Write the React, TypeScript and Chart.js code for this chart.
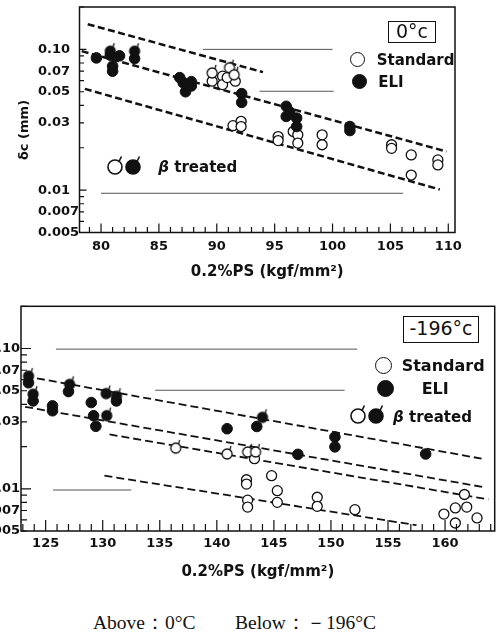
import React, { useEffect, useRef } from 'react';
import { Chart, registerables } from 'chart.js';

Chart.register(...registerables);

// ---------- shared axis ticks ----------
const yTicks = [0.005, 0.007, 0.01, 0.03, 0.05, 0.07, 0.1];
const yTickLabels = ['0.005', '0.007', '0.01', '0.03', '0.05', '0.07', '0.10'];

// ---------- 0 °C panel ----------
const xTicks0 = [80, 85, 90, 95, 100, 105, 110];
const std0X = [89.6, 90.5, 90.5, 91.6, 90.9, 91.4, 92.1, 92.1, 95.3, 95.3, 96.6, 97.0, 97.0, 99.1, 99.1, 105.1, 105.1, 106.8, 106.8, 109.1, 109.1];
const std0Y = [0.0594, 0.0645, 0.0562, 0.0594, 0.063, 0.0287, 0.0308, 0.0283, 0.024, 0.0225, 0.0261, 0.0247, 0.0216, 0.0247, 0.021, 0.021, 0.0198, 0.0178, 0.0128, 0.0164, 0.0151];
const stdB0X = [89.6, 91.1, 91.5];
const stdB0Y = [0.068, 0.074, 0.066];
const eli0X = [79.6, 80.8, 81.0, 81.0, 81.6, 82.9, 86.8, 87.1, 87.3, 87.8, 87.8, 92.15, 92.15, 96.0, 96.0, 96.3, 96.9, 96.9, 101.5, 101.5];
const eli0Y = [0.087, 0.091, 0.076, 0.07, 0.09, 0.086, 0.063, 0.058, 0.05, 0.059, 0.055, 0.0485, 0.042, 0.0394, 0.0334, 0.036, 0.0325, 0.0283, 0.0283, 0.0265];
const eliB0X = [80.8, 82.9];
const eliB0Y = [0.097, 0.097];
const dash0X = [[78.85, 93.99], [78.33, 109.85], [78.6, 109.27]];
const dash0Y = [[0.151, 0.0689], [0.0972, 0.0188], [0.0524, 0.0101]];
const rule0X = [[88.8, 100.0], [93.7, 100.1], [80.0, 106.1]];
const rule0Y = [[0.1, 0.1], [0.0504, 0.0504], [0.0095, 0.0095]];

// ---------- -196 °C panel ----------
const xTicks196 = [125, 130, 135, 140, 145, 150, 155, 160];
const std196X = [143.3, 142.6, 142.6, 142.7, 142.7, 144.8, 145.3, 145.3, 148.8, 148.8, 152.1, 159.9, 160.9, 160.9, 161.7, 161.9, 162.8];
const std196Y = [0.0164, 0.0116, 0.0108, 0.0083, 0.0074, 0.0124, 0.0097, 0.008, 0.0087, 0.0075, 0.0071, 0.0066, 0.0073, 0.0057, 0.0091, 0.0074, 0.0062];
const stdB196X = [136.4, 140.9, 142.7, 143.4];
const stdB196Y = [0.0195, 0.0177, 0.0183, 0.0183];
const eli196X = [123.5, 123.9, 125.6, 125.6, 127.0, 129.0, 129.2, 129.4, 131.2, 140.9, 143.5, 147.1, 150.35, 150.35, 158.3];
const eli196Y = [0.057, 0.0423, 0.039, 0.036, 0.0493, 0.0412, 0.0332, 0.0279, 0.0423, 0.0268, 0.0278, 0.0176, 0.0234, 0.0199, 0.0177];
const eliB196X = [123.5, 123.9, 127.1, 130.3, 130.35, 131.2, 144.0];
const eliB196Y = [0.0635, 0.0472, 0.0555, 0.0477, 0.0332, 0.0456, 0.0323];
const dash196X = [[123.2, 163.2], [123.2, 163.3], [130.6, 163.8], [130.15, 157.5]];
const dash196Y = [[0.0635, 0.0164], [0.0384, 0.0103], [0.0244, 0.0084], [0.0124, 0.0055]];
const rule196X = [[125.9, 152.3], [134.6, 151.2], [125.65, 132.5]];
const rule196Y = [[0.099, 0.099], [0.0504, 0.0504], [0.0098, 0.0098]];

const INK = '#111';
const TICK_FONT = { family: 'DejaVu Sans', size: 13, weight: 'bold' as const };

const zip = (xs: number[], ys: number[]) => xs.map((x, i) => ({ x, y: ys[i] }));

function makeBeta(filled: boolean): HTMLCanvasElement {
  const c = document.createElement('canvas');
  c.width = 20;
  c.height = 20;
  const ctx = c.getContext('2d')!;
  ctx.lineWidth = 1.3;
  ctx.strokeStyle = INK;
  ctx.beginPath();
  ctx.arc(10, 10, 5, 0, Math.PI * 2);
  ctx.fillStyle = filled ? INK : '#fff';
  ctx.fill();
  ctx.stroke();
  const a = (-55 * Math.PI) / 180;
  ctx.beginPath();
  ctx.moveTo(10 + 5 * Math.cos(a), 10 + 5 * Math.sin(a));
  ctx.lineTo(13.8, 1.8);
  ctx.stroke();
  return c;
}

const framePlugin = {
  id: 'frame',
  afterDraw(chart: any, _args: any, o: any) {
    const { ctx, chartArea: a, scales } = chart;
    const x = scales.x;
    const y = scales.y;
    ctx.save();
    ctx.strokeStyle = INK;
    ctx.lineWidth = 1.5;
    ctx.strokeRect(a.left, a.top, a.right - a.left, a.bottom - a.top);
    ctx.lineWidth = 1.2;
    ctx.beginPath();
    for (let v = Math.ceil(x.min); v <= x.max; v++) {
      const px = x.getPixelForValue(v);
      const len = v % 5 === 0 ? o.xMajor : o.xMinor;
      ctx.moveTo(px, a.bottom);
      ctx.lineTo(px, a.bottom - len);
    }
    for (let e = -3; e <= -1; e++) {
      for (let k = 1; k <= 9; k++) {
        const v = k * Math.pow(10, e);
        if (v < y.min * 0.999 || v > y.max * 1.001) continue;
        const py = y.getPixelForValue(v);
        const len = k === 1 ? o.yMajor : o.yMinor;
        ctx.moveTo(a.left, py);
        ctx.lineTo(a.left + len, py);
      }
    }
    ctx.stroke();
    ctx.restore();
  },
};

type Panel = {
  xMin: number; xMax: number; xTicks: number[];
  stdX: number[]; stdY: number[]; stdBX: number[]; stdBY: number[];
  eliX: number[]; eliY: number[]; eliBX: number[]; eliBY: number[];
  dashX: number[][]; dashY: number[][]; ruleX: number[][]; ruleY: number[][];
  dashWidth: number; dash: number[];
  padLeft: number; padRight: number; padTop: number;
  yWidth: number; xHeight: number;
  yAlign: 'near' | 'far'; yPad: number; xPad: number; titlePad: number;
  xMajor: number; xMinor: number; yMajor: number; yMinor: number;
};

function makeConfig(p: Panel, betaOpen: HTMLCanvasElement, betaFilled: HTMLCanvasElement): any {
  const lineSets = p.dashX.map((xs, i) => ({
    label: 'fit' + i,
    data: zip(xs, p.dashY[i]),
    showLine: true,
    pointRadius: 0,
    borderColor: INK,
    borderWidth: p.dashWidth,
    borderDash: p.dash,
    fill: false,
  }));
  const ruleSets = p.ruleX.map((xs, i) => ({
    label: 'rule' + i,
    data: zip(xs, p.ruleY[i]),
    showLine: true,
    pointRadius: 0,
    borderColor: '#555',
    borderWidth: 1,
    fill: false,
  }));
  return {
    type: 'scatter',
    data: {
      datasets: [
        { label: 'ELI β', data: zip(p.eliBX, p.eliBY), pointStyle: betaFilled, pointRadius: 5, pointHoverRadius: 5 },
        { label: 'Standard β', data: zip(p.stdBX, p.stdBY), pointStyle: betaOpen, pointRadius: 5, pointHoverRadius: 5 },
        { label: 'ELI', data: zip(p.eliX, p.eliY), pointStyle: 'circle', pointRadius: 5.3, pointHoverRadius: 5.3, backgroundColor: INK, borderColor: INK, borderWidth: 1 },
        { label: 'Standard', data: zip(p.stdX, p.stdY), pointStyle: 'circle', pointRadius: 5, pointHoverRadius: 5, backgroundColor: '#fff', borderColor: INK, borderWidth: 1.3 },
        ...lineSets,
        ...ruleSets,
      ],
    },
    options: {
      responsive: false,
      animation: false,
      events: [],
      layout: { padding: { left: p.padLeft, right: p.padRight, top: p.padTop, bottom: 0 } },
      plugins: {
        legend: { display: false },
        tooltip: { enabled: false },
        frame: { xMajor: p.xMajor, xMinor: p.xMinor, yMajor: p.yMajor, yMinor: p.yMinor },
      },
      scales: {
        x: {
          type: 'linear',
          position: 'bottom',
          min: p.xMin,
          max: p.xMax,
          grid: { display: false, drawTicks: false },
          border: { display: false },
          afterBuildTicks: (s: any) => { s.ticks = p.xTicks.map((v) => ({ value: v })); },
          afterFit: (s: any) => { s.height = p.xHeight; s.paddingLeft = 0; s.paddingRight = 0; },
          ticks: { autoSkip: false, maxRotation: 0, padding: p.xPad, color: INK, font: TICK_FONT, callback: (v: any) => String(v) },
          title: {
            display: true,
            text: '0.2%PS (kgf/mm²)',
            color: INK,
            font: { family: 'DejaVu Sans', size: 15, weight: 'bold' },
            padding: { top: 0, bottom: p.titlePad },
          },
        },
        y: {
          type: 'logarithmic',
          position: 'left',
          min: 0.005,
          max: 0.2,
          grid: { display: false, drawTicks: false },
          border: { display: false },
          afterBuildTicks: (s: any) => { s.ticks = yTicks.map((v) => ({ value: v })); },
          afterFit: (s: any) => { s.width = p.yWidth; s.paddingTop = 0; s.paddingBottom = 0; },
          ticks: { autoSkip: false, padding: p.yPad, crossAlign: p.yAlign, color: INK, font: TICK_FONT, callback: (_v: any, i: number) => yTickLabels[i] },
        },
      },
    },
    plugins: [framePlugin],
  };
}

const panel0: Panel = {
  xMin: 78.14, xMax: 110.58, xTicks: xTicks0,
  stdX: std0X, stdY: std0Y, stdBX: stdB0X, stdBY: stdB0Y,
  eliX: eli0X, eliY: eli0Y, eliBX: eliB0X, eliBY: eliB0Y,
  dashX: dash0X, dashY: dash0Y, ruleX: rule0X, ruleY: rule0Y,
  dashWidth: 2.5, dash: [7, 3.5],
  padLeft: 38, padRight: 46, padTop: 7, yWidth: 41.5, xHeight: 62.5,
  yAlign: 'far', yPad: 6, xPad: 6.4, titlePad: 14.3,
  xMajor: 9, xMinor: 5.5, yMajor: 7, yMinor: 4.5,
};

const panel196: Panel = {
  xMin: 122.84, xMax: 164.35, xTicks: xTicks196,
  stdX: std196X, stdY: std196Y, stdBX: stdB196X, stdBY: stdB196Y,
  eliX: eli196X, eliY: eli196Y, eliBX: eliB196X, eliBY: eliB196Y,
  dashX: dash196X, dashY: dash196Y, ruleX: rule196X, ruleY: rule196Y,
  dashWidth: 1.8, dash: [8, 4],
  padLeft: 26, padRight: 2.5, padTop: 6, yWidth: 35, xHeight: 69,
  yAlign: 'near', yPad: 1, xPad: 4.5, titlePad: 19.3,
  xMajor: 11, xMinor: 7, yMajor: 10, yMinor: 6,
};

const SANS = '"DejaVu Sans", sans-serif';

function Txt(props: { x: number; cy: number; size: number; bold?: boolean; children: React.ReactNode; lh?: number }) {
  const lh = props.lh ?? Math.round(props.size * 1.2);
  return (
    <div
      style={{
        position: 'absolute',
        left: props.x,
        top: props.cy - lh / 2,
        lineHeight: lh + 'px',
        height: lh,
        fontSize: props.size,
        fontFamily: SANS,
        fontWeight: props.bold ? 'bold' : 'normal',
        color: INK,
        whiteSpace: 'nowrap',
      }}
    >
      {props.children}
    </div>
  );
}

function Dot(props: { cx: number; cy: number; d: number; filled?: boolean }) {
  return (
    <div
      style={{
        position: 'absolute',
        left: props.cx - props.d / 2,
        top: props.cy - props.d / 2,
        width: props.d,
        height: props.d,
        borderRadius: '50%',
        boxSizing: 'border-box',
        border: '1.6px solid ' + INK,
        background: props.filled ? INK : '#fff',
      }}
    />
  );
}

function BetaSym(props: { cx: number; cy: number; filled?: boolean }) {
  const a = (-55 * Math.PI) / 180;
  return (
    <svg width={24} height={24} style={{ position: 'absolute', left: props.cx - 12, top: props.cy - 12 }}>
      <circle cx={12} cy={12} r={7} fill={props.filled ? INK : '#fff'} stroke={INK} strokeWidth={1.6} />
      <line x1={12 + 7 * Math.cos(a)} y1={12 + 7 * Math.sin(a)} x2={18.5} y2={1.5} stroke={INK} strokeWidth={1.6} />
    </svg>
  );
}

function Box(props: { left: number; top: number; w: number; h: number; size: number; children: React.ReactNode }) {
  return (
    <div
      style={{
        position: 'absolute',
        left: props.left,
        top: props.top,
        width: props.w,
        height: props.h,
        boxSizing: 'border-box',
        border: '1.6px solid ' + INK,
        fontFamily: SANS,
        fontSize: props.size,
        lineHeight: props.h - 3 + 'px',
        textAlign: 'center',
        color: INK,
        background: '#fff',
      }}
    >
      {props.children}
    </div>
  );
}

export default function App() {
  const topRef = useRef<HTMLCanvasElement>(null);
  const botRef = useRef<HTMLCanvasElement>(null);

  useEffect(() => {
    const open = makeBeta(false);
    const filled = makeBeta(true);
    const c1 = new Chart(topRef.current!, makeConfig(panel0, open, filled));
    const c2 = new Chart(botRef.current!, makeConfig(panel196, open, filled));
    return () => {
      c1.destroy();
      c2.destroy();
    };
  }, []);

  return (
    <div style={{ position: 'absolute', left: 0, top: 0, width: 501, height: 637, overflow: 'hidden', background: '#fff' }}>
      <canvas ref={topRef} width={501} height={295} style={{ position: 'absolute', left: 0, top: 0 }} />
      <canvas ref={botRef} width={541} height={300} style={{ position: 'absolute', left: -40, top: 300 }} />

      {/* top panel annotations */}
      <div
        style={{
          position: 'absolute',
          left: 22.7,
          top: 130,
          transform: 'translate(-50%, -50%) rotate(-90deg)',
          fontFamily: SANS,
          fontWeight: 'bold',
          fontSize: 13,
          color: INK,
          whiteSpace: 'nowrap',
        }}
      >
        δc (mm)
      </div>
      <Box left={388} top={20.5} w={48} h={22.5} size={19}>0°c</Box>
      <Dot cx={357.5} cy={59.3} d={15} />
      <Txt x={376.7} cy={59.8} size={15} bold>Standard</Txt>
      <Dot cx={359.3} cy={81.7} d={15} filled />
      <Txt x={378.3} cy={82.2} size={15} bold>ELI</Txt>
      <BetaSym cx={115} cy={166.7} />
      <BetaSym cx={132.5} cy={166.7} filled />
      <Txt x={158.3} cy={167.2} size={15} bold>
        <i>β</i> treated
      </Txt>

      {/* bottom panel annotations */}
      <Box left={402.7} top={316} w={76.6} h={26.7} size={19}>-196°c</Box>
      <Dot cx={383.3} cy={365} d={17} />
      <Txt x={401.7} cy={365.5} size={16} bold>Standard</Txt>
      <Dot cx={385} cy={388} d={17} filled />
      <Txt x={421.7} cy={388.5} size={16} bold>ELI</Txt>
      <BetaSym cx={357.5} cy={416} />
      <BetaSym cx={375.8} cy={416} filled />
      <Txt x={393} cy={416.5} size={15} bold>
        <i>β</i> treated
      </Txt>

      {/* caption */}
      <div style={{ position: 'absolute', left: 93, top: 611, fontFamily: '"Liberation Serif", serif', fontSize: 19.5, lineHeight: '24px', color: INK, whiteSpace: 'nowrap' }}>
        Above：0°C
      </div>
      <div style={{ position: 'absolute', left: 235, top: 611, fontFamily: '"Liberation Serif", serif', fontSize: 19.5, lineHeight: '24px', color: INK, whiteSpace: 'nowrap' }}>
        Below：－196°C
      </div>
    </div>
  );
}
